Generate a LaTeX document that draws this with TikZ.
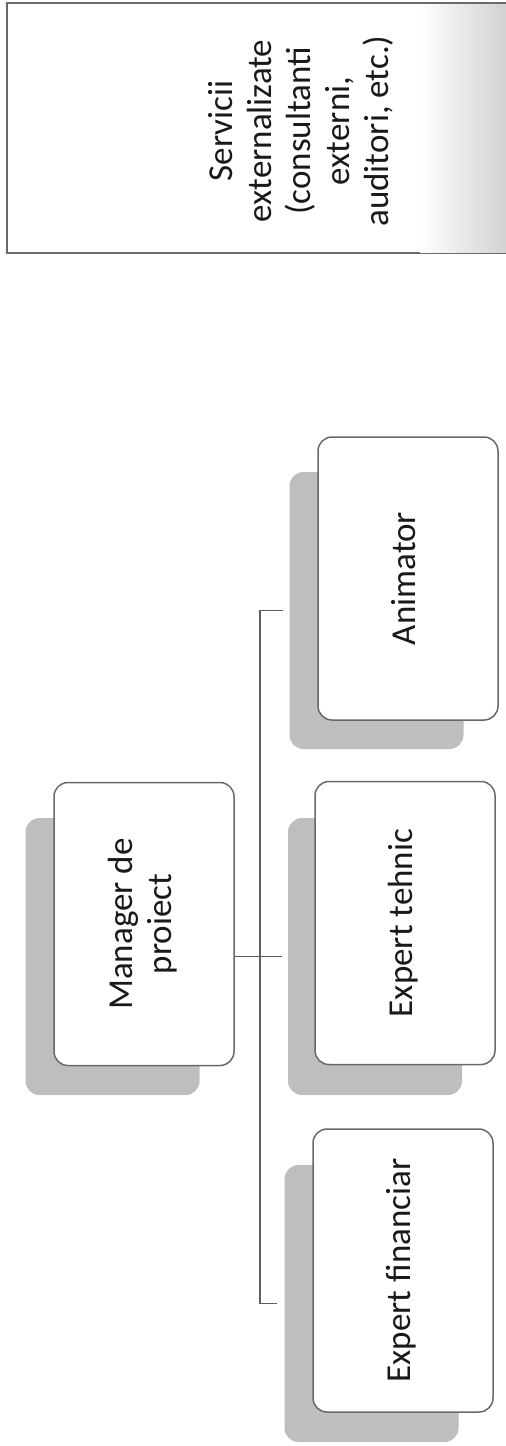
\documentclass[tikz,border=0pt]{standalone}
\usepackage{fontspec}
\setmainfont{Carlito}
\usetikzlibrary{calc}
\definecolor{shadowgray}{RGB}{190,190,190}
\definecolor{boxline}{RGB}{105,105,105}
\definecolor{connline}{RGB}{95,95,95}
\definecolor{textcol}{RGB}{25,25,25}
\tikzset{
  frontbox/.style={draw=boxline, line width=1.5pt, fill=white, rounded corners=14pt,
    minimum width=180pt, minimum height=283pt, inner sep=0pt, align=center,
    text=textcol, font=\fontsize{35}{39}\selectfont},
  shadowbox/.style={fill=shadowgray, rounded corners=14pt,
    minimum width=174pt, minimum height=277pt, inner sep=0pt},
  conn/.style={draw=connline, line width=1.6pt},
  servbox/.style={draw=boxline, line width=1.3pt, fill=white,
    minimum width=591pt, minimum height=250pt, inner sep=0pt},
  servtext/.style={inner sep=0pt, align=center, text=textcol,
    font=\fontsize{35}{39}\selectfont}
}
\newcommand{\vtext}[1]{\rotatebox{90}{\begin{tabular}{@{}c@{}}#1\end{tabular}}}
\begin{document}
\begin{tikzpicture}[x=1pt,y=-1pt]
\useasboundingbox (0,0) rectangle (506,1446);
\clip (0,0) rectangle (506,1446);
\fill[white] (0,0) rectangle (506,1446);

% outsourced services box
\node[servbox] (serv) at (302.5,128) {};
\shade[left color=white, right color=shadowgray!70] (420,4) rectangle (506,252);
\node[servtext] (servtxt) at (302.5,131) {\vtext{Servicii\\externalizate\\(consultanti\\externi,\\auditori, etc.)}};

% shadow boxes
\node[shadowbox] (mgrsh) at (112.5,956.5) {};
\node[shadowbox] (animsh) at (376.5,610.5) {};
\node[shadowbox] (tehsh) at (375,956.5) {};
\node[shadowbox] (finsh) at (371.5,1303.5) {};

% connectors
\coordinate (bus) at (260,0);
\draw[conn, shorten >=6pt] (mgrsh.east) -- (tehsh.west);
\draw[conn, shorten <=6pt, shorten >=7pt] (animsh.west) -- (animsh.west -| bus) -- (finsh.west -| bus) -- (finsh.west);

% front boxes
\node[frontbox] (mgr) at (144,924) {\vtext{Manager de\\proiect}};
\node[frontbox] (anim) at (408,578.5) {\vtext{Animator}};
\node[frontbox] (teh) at (405,923) {\vtext{Expert tehnic}};
\node[frontbox] (fin) at (403,1270.5) {\vtext{Expert financiar}};
\end{tikzpicture}
\end{document}
